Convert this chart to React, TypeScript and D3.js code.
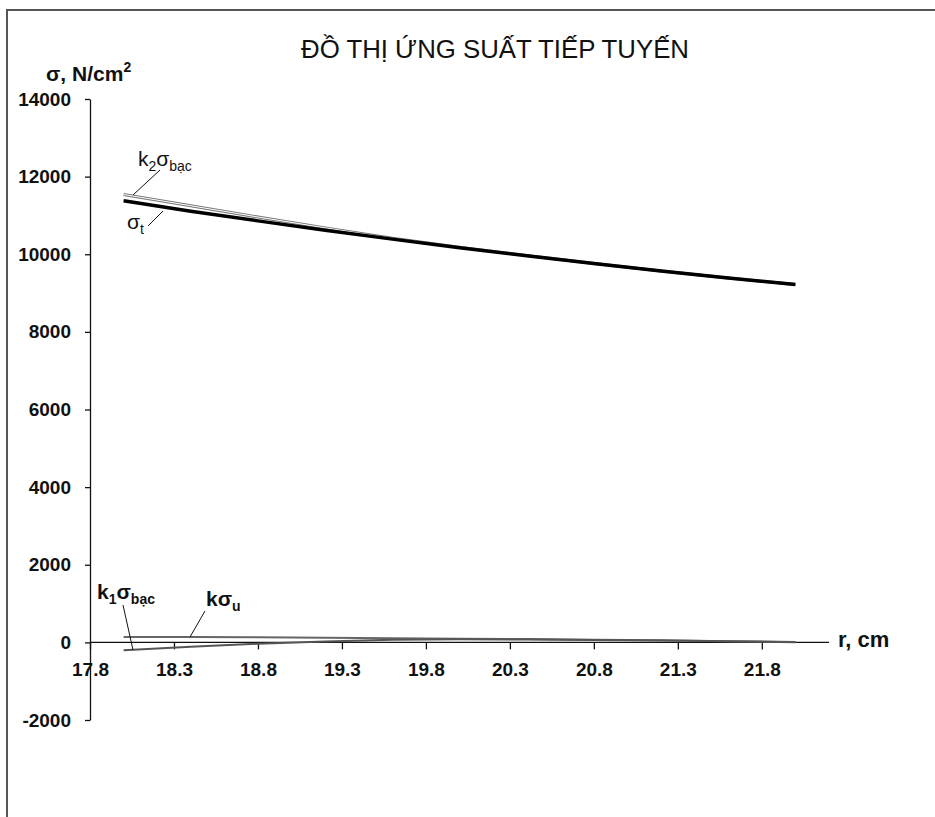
import React, { useEffect, useRef } from 'react';
import * as d3 from 'd3';

// r, cm
const radius = [18.0, 18.4, 18.8, 19.2, 19.6, 20.0, 20.4, 20.8, 21.2, 21.6, 22.0];
// stress series, N/cm2
const sigmaT = [11380, 11110, 10860, 10620, 10390, 10170, 9960, 9760, 9570, 9390, 9220];
const k2SigmaBac = [11540, 11250, 10960, 10680, 10410, 10180, 9965, 9762, 9570, 9390, 9220];
const kSigmaU = [140, 138, 135, 122, 108, 96, 84, 70, 52, 32, 12];
const k1SigmaBac = [-205, -110, -35, 25, 65, 80, 76, 64, 46, 26, 6];

const xTicks = [17.8, 18.3, 18.8, 19.3, 19.8, 20.3, 20.8, 21.3, 21.8];
const yTicks = [-2000, 0, 2000, 4000, 6000, 8000, 10000, 12000, 14000];

const title = 'ĐỒ THỊ ỨNG SUẤT TIẾP TUYẾN';
const font = '"Liberation Sans", Arial, sans-serif';

export default function App() {
    const xAxisRef = useRef<SVGGElement>(null);
    const yAxisRef = useRef<SVGGElement>(null);

    const width = 935;
    const height = 817;
    const margin = { left: 90, top: 99 };

    const xScale = d3.scaleLinear().domain([17.8, 22.2]).range([margin.left, 829]);
    const yScale = d3.scaleLinear().domain([-2000, 14000]).range([720, margin.top]);

    const toPoints = (vals: number[]) => vals.map((v, i) => [radius[i], v] as [number, number]);
    const line = d3.line<[number, number]>()
        .x((d) => xScale(d[0]))
        .y((d) => yScale(d[1]));

    useEffect(() => {
        const xAxis = d3.axisBottom(xScale)
            .tickValues(xTicks)
            .tickFormat(d3.format('.1f'))
            .tickSizeInner(7)
            .tickSizeOuter(0)
            .tickPadding(13);
        const yAxis = d3.axisLeft(yScale)
            .tickValues(yTicks)
            .tickFormat((d) => String(d))
            .tickSizeInner(5)
            .tickSizeOuter(0)
            .tickPadding(14);

        const gx = d3.select(xAxisRef.current!).call(xAxis as any);
        const gy = d3.select(yAxisRef.current!).call(yAxis as any);
        [gx, gy].forEach((g) => {
            g.selectAll('path').attr('stroke', '#111').attr('stroke-width', 1.3);
            g.selectAll('line').attr('stroke', '#111').attr('stroke-width', 1.3);
            g.selectAll('text')
                .attr('fill', '#111')
                .style('font-family', font)
                .style('font-weight', 'bold')
                .style('font-size', '19px');
        });
        // x axis line runs a little past the last tick
        gx.select('path.domain').attr('d', `M${margin.left},0H${829}`);
    }, []);

    return (
        <svg width={width} height={height} style={{ position: 'absolute', left: 0, top: 0, background: '#fff' }}>
            <rect x={7} y={10} width={1000} height={1000} fill="none" stroke="#555" strokeWidth={2} />

            <text x={495} y={58} textAnchor="middle" fontFamily={font} fontSize={25}
                textLength={388} lengthAdjust="spacingAndGlyphs" fill="#111">{title}</text>

            <text x={46} y={81} fontFamily={font} fontSize={21} fontWeight="bold" fill="#111">
                σ, N/cm<tspan dy={-9} fontSize={14}>2</tspan>
            </text>

            <g ref={yAxisRef} transform={`translate(${margin.left},0)`} />
            <g ref={xAxisRef} transform={`translate(0,${yScale(0)})`} />

            <text x={838} y={647} fontFamily={font} fontSize={22} fontWeight="bold" fill="#111">r, cm</text>

            {/* series */}
            <path d={line(toPoints(kSigmaU))!} fill="none" stroke="#666" strokeWidth={2} />
            <path d={line(toPoints(k1SigmaBac))!} fill="none" stroke="#555" strokeWidth={2} />
            <path d={line(toPoints(k2SigmaBac))!} fill="none" stroke="#777" strokeWidth={3} />
            <path d={line(toPoints(k2SigmaBac))!} fill="none" stroke="#fff" strokeWidth={1} />
            <path d={line(toPoints(sigmaT))!} fill="none" stroke="#000" strokeWidth={3.5} />

            {/* labels with leaders */}
            <g fontFamily={font} fill="#111" fontSize={21}>
                <line x1={160} y1={170} x2={133} y2={195} stroke="#111" strokeWidth={1} />
                <text x={138} y={166}>k<tspan dy={5} fontSize={14}>2</tspan><tspan dy={-5}>σ</tspan><tspan dy={5} fontSize={14}>bạc</tspan></text>

                <line x1={163} y1={211} x2={148} y2={226} stroke="#111" strokeWidth={1} />
                <text x={127} y={229}>σ<tspan dy={5} fontSize={14}>t</tspan></text>

                <line x1={123} y1={605} x2={133} y2={650} stroke="#111" strokeWidth={1} />
                <text x={97} y={599} fontWeight="bold">k<tspan dy={5} fontSize={14}>1</tspan><tspan dy={-5}>σ</tspan><tspan dy={5} fontSize={14}>bạc</tspan></text>

                <line x1={205} y1={611} x2={190} y2={637} stroke="#111" strokeWidth={1} />
                <text x={206} y={606} fontWeight="bold">kσ<tspan dy={5} fontSize={14}>u</tspan></text>
            </g>
        </svg>
    );
}
